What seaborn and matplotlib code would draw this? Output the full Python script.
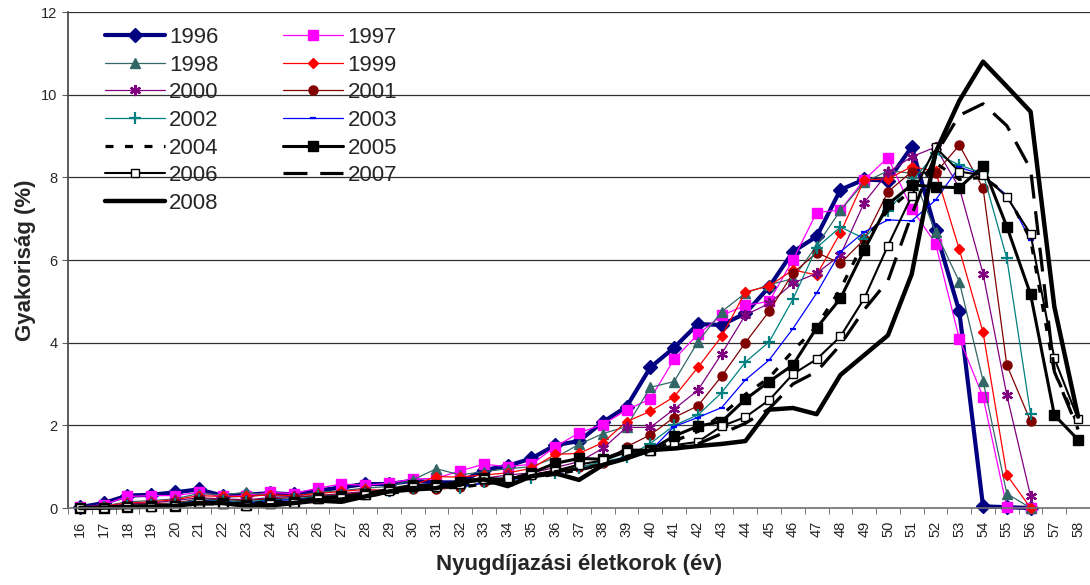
import matplotlib
matplotlib.use("Agg")
import matplotlib.pyplot as plt
import seaborn as sns
import numpy as np
from matplotlib.ticker import MultipleLocator

# === Data ===
ages = list(range(16, 59))

y1996 = [0.02, 0.12, 0.30, 0.32, 0.38, 0.45, 0.30, 0.32, 0.36, 0.33, 0.42, 0.50, 0.58, 0.58, 0.66,
         0.62, 0.62, 0.92, 1.02, 1.20, 1.52, 1.62, 2.08, 2.45, 3.40, 3.88, 4.45, 4.43, 4.71, 5.35,
         6.20, 6.57, 7.70, 7.95, 7.92, 8.74, 6.72, 4.76, 0.04, 0.02, 0.00]
y1997 = [0.02, 0.08, 0.28, 0.30, 0.30, 0.38, 0.28, 0.30, 0.38, 0.35, 0.48, 0.58, 0.55, 0.60, 0.70,
         0.72, 0.90, 1.06, 1.00, 1.06, 1.48, 1.82, 2.02, 2.37, 2.64, 3.60, 4.20, 4.66, 4.90, 5.00,
         6.00, 7.15, 7.21, 7.94, 8.48, 7.24, 6.40, 4.10, 2.69, 0.02, 0.00]
y1998 = [0.02, 0.05, 0.15, 0.18, 0.22, 0.35, 0.32, 0.38, 0.30, 0.28, 0.38, 0.42, 0.48, 0.52, 0.68,
         0.95, 0.80, 0.88, 0.95, 1.00, 1.22, 1.54, 1.80, 1.97, 2.92, 3.06, 4.02, 4.75, 5.20, 5.40,
         5.55, 6.35, 7.20, 7.88, 8.16, 8.10, 6.69, 5.48, 3.08, 0.35, 0.00]
y1999 = [0.02, 0.05, 0.12, 0.15, 0.20, 0.30, 0.28, 0.28, 0.32, 0.30, 0.35, 0.40, 0.45, 0.42, 0.55,
         0.76, 0.75, 0.80, 0.85, 0.96, 1.30, 1.32, 1.58, 2.09, 2.34, 2.69, 3.40, 4.15, 5.23, 5.37,
         5.76, 5.64, 6.66, 7.94, 7.96, 8.26, 8.15, 6.26, 4.25, 0.80, 0.00]
y2000 = [0.00, 0.03, 0.10, 0.12, 0.18, 0.25, 0.22, 0.20, 0.25, 0.28, 0.30, 0.35, 0.40, 0.42, 0.50,
         0.55, 0.58, 0.72, 0.80, 0.85, 0.98, 1.12, 1.44, 1.95, 1.95, 2.39, 2.85, 3.73, 4.67, 4.95,
         5.44, 5.68, 6.12, 7.39, 8.12, 8.50, 8.73, 7.75, 5.67, 2.73, 0.29]
y2001 = [0.00, 0.02, 0.08, 0.10, 0.12, 0.22, 0.20, 0.18, 0.22, 0.25, 0.30, 0.32, 0.38, 0.44, 0.45,
         0.45, 0.50, 0.62, 0.72, 0.80, 0.92, 1.00, 1.08, 1.48, 1.77, 2.19, 2.47, 3.19, 4.00, 4.76,
         5.68, 6.18, 5.92, 6.50, 7.65, 8.14, 8.10, 8.78, 7.74, 3.46, 2.10]
y2002 = [0.00, 0.02, 0.06, 0.08, 0.10, 0.20, 0.18, 0.15, 0.20, 0.22, 0.28, 0.30, 0.35, 0.40, 0.48,
         0.50, 0.48, 0.62, 0.70, 0.72, 0.85, 0.98, 1.12, 1.24, 1.56, 2.00, 2.25, 2.79, 3.53, 4.02,
         5.05, 6.30, 6.80, 6.52, 7.18, 7.90, 8.58, 8.30, 8.10, 6.04, 2.27]
y2003 = [0.00, 0.02, 0.05, 0.06, 0.08, 0.18, 0.15, 0.12, 0.18, 0.20, 0.25, 0.28, 0.32, 0.38, 0.45,
         0.50, 0.52, 0.60, 0.68, 0.75, 0.85, 0.95, 1.05, 1.25, 1.38, 1.97, 2.19, 2.43, 3.10, 3.58,
         4.34, 5.20, 6.20, 6.68, 6.97, 6.95, 7.45, 8.25, 8.05, 7.57, 6.48]
y2004 = [0.00, 0.02, 0.04, 0.05, 0.06, 0.15, 0.14, 0.10, 0.15, 0.18, 0.22, 0.25, 0.30, 0.35, 0.42,
         0.48, 0.50, 0.58, 0.65, 0.72, 0.82, 0.92, 1.05, 1.20, 1.38, 1.62, 1.85, 2.25, 2.75, 3.15,
         3.80, 4.40, 5.30, 6.45, 7.20, 7.70, 8.35, 7.95, 8.00, 7.60, 6.50, 3.30, 2.00]
y2005 = [0.00, 0.01, 0.03, 0.04, 0.05, 0.15, 0.12, 0.08, 0.12, 0.15, 0.25, 0.28, 0.35, 0.45, 0.55,
         0.55, 0.62, 0.72, 0.68, 0.85, 1.08, 1.20, 1.18, 1.40, 1.40, 1.74, 1.98, 2.09, 2.63, 3.06,
         3.46, 4.36, 5.07, 6.24, 7.35, 7.82, 7.77, 7.75, 8.27, 6.81, 5.17, 2.25, 1.65]
y2006 = [0.00, 0.01, 0.02, 0.03, 0.04, 0.12, 0.10, 0.06, 0.10, 0.12, 0.22, 0.25, 0.32, 0.42, 0.52,
         0.50, 0.58, 0.70, 0.72, 0.80, 0.90, 1.05, 1.15, 1.35, 1.38, 1.52, 1.60, 1.98, 2.20, 2.61,
         3.24, 3.60, 4.15, 5.07, 6.35, 7.55, 8.73, 8.14, 8.05, 7.53, 6.63, 3.62, 2.15]
y2007 = [0.00, 0.01, 0.02, 0.03, 0.04, 0.10, 0.10, 0.06, 0.08, 0.12, 0.20, 0.22, 0.30, 0.40, 0.50,
         0.48, 0.55, 0.70, 0.65, 0.78, 0.88, 0.95, 1.05, 1.25, 1.38, 1.45, 1.55, 1.80, 2.05, 2.40,
         3.00, 3.30, 3.95, 4.80, 5.50, 7.10, 8.55, 9.50, 9.78, 9.25, 8.20, 3.30, 1.90]
y2008 = [0.00, 0.01, 0.02, 0.03, 0.05, 0.12, 0.12, 0.06, 0.06, 0.12, 0.18, 0.15, 0.28, 0.40, 0.45,
         0.48, 0.64, 0.69, 0.53, 0.77, 0.84, 0.68, 1.04, 1.20, 1.40, 1.44, 1.50, 1.55, 1.62, 2.38,
         2.42, 2.27, 3.22, 3.70, 4.18, 5.66, 8.60, 9.85, 10.80, 10.20, 9.59, 4.87, 2.21]

years = ["1996", "1997", "1998", "1999", "2000", "2001", "2002",
         "2003", "2004", "2005", "2006", "2007", "2008"]
series = [y1996, y1997, y1998, y1999, y2000, y2001, y2002,
          y2003, y2004, y2005, y2006, y2007, y2008]

# Excel-like styles per year
styles = {
    "1996": dict(color="#000080", marker="D", ms=7, lw=3.0),
    "1997": dict(color="#FF00FF", marker="s", ms=6.5, lw=0.9),
    "1998": dict(color="#336666", marker="^", ms=7, lw=0.9),
    "1999": dict(color="#FF0000", marker="D", ms=5, lw=0.9),
    "2000": dict(color="#800080", marker=(6, 2, 0), ms=8, lw=0.9),
    "2001": dict(color="#800000", marker="o", ms=6.5, lw=0.9),
    "2002": dict(color="#008080", marker="+", ms=8, lw=0.9),
    "2003": dict(color="#0000FF", marker="_", ms=4, lw=0.9),
    "2004": dict(color="black", marker=None, ms=0, lw=2.3, ls=(0, (2.5, 3.6))),
    "2005": dict(color="black", marker="s", ms=6.5, lw=2.2),
    "2006": dict(color="black", marker="s", ms=6, lw=1.5, mfc="white"),
    "2007": dict(color="black", marker=None, ms=0, lw=2.3, ls=(0, (7.5, 4.0))),
    "2008": dict(color="black", marker=None, ms=0, lw=3.2),
}

sns.set_style("white")
plt.rcParams["font.family"] = ["Liberation Sans", "DejaVu Sans"]

fig = plt.figure(figsize=(10.9, 5.85), dpi=100)
ax = fig.add_axes([0.0624, 0.1316, 0.9376, 0.8478])

for yr, vals in zip(years, series):
    st = styles[yr]
    kw = dict(color=st["color"], linewidth=st["lw"], label=yr, clip_on=False)
    if st["marker"] is not None:
        kw.update(marker=st["marker"], markersize=st["ms"],
                  markeredgecolor=st["color"],
                  markerfacecolor=st.get("mfc", st["color"]),
                  markeredgewidth=1.6 if st["marker"] in ("+", "_", (6, 2, 0)) else 1.0)
    if "ls" in st:
        kw["linestyle"] = st["ls"]
    sns.lineplot(x=ages[:len(vals)], y=vals, ax=ax, errorbar=None, **kw)

ax.set_xlim(15.5, 58.5)
ax.set_ylim(0, 12)
ax.set_yticks(np.arange(0, 13, 2))
ax.yaxis.grid(True, color="#303030", linewidth=0.9)
ax.xaxis.grid(False)

ax.set_xticks(ages)
ax.set_xticklabels([str(a) for a in ages], rotation=90, fontsize=10.5)
ax.xaxis.set_minor_locator(MultipleLocator(1, offset=0.5))
ax.tick_params(axis="x", which="major", length=0, pad=9)
ax.tick_params(axis="x", which="minor", length=4, direction="out", color="#606060", bottom=True)
ax.tick_params(axis="y", length=4, direction="out", color="#606060", left=True, labelsize=10.5)

for side in ("top", "right"):
    ax.spines[side].set_visible(False)
ax.spines["left"].set_color("#404040")
ax.spines["bottom"].set_color("#707070")
for side in ("left", "bottom"):
    ax.spines[side].set_linewidth(1.2)

ax.set_xlabel("Nyugdíjazási életkorok (év)", fontsize=16, fontweight="bold", labelpad=12)
ax.set_ylabel("Gyakoriság (%)", fontsize=16, fontweight="bold", labelpad=4)

# legend: row-wise order in two columns
handles, labels = ax.get_legend_handles_labels()
order = [0, 2, 4, 6, 8, 10, 12, 1, 3, 5, 7, 9, 11]
ax.legend([handles[i] for i in order], [labels[i] for i in order],
          ncol=2, loc="upper left", bbox_to_anchor=(0.036, 0.97),
          frameon=False, fontsize=16, handlelength=2.7, handletextpad=0.2,
          columnspacing=2.9, labelspacing=0.3, borderpad=0, borderaxespad=0)

fig.savefig("out.png", dpi=100)
